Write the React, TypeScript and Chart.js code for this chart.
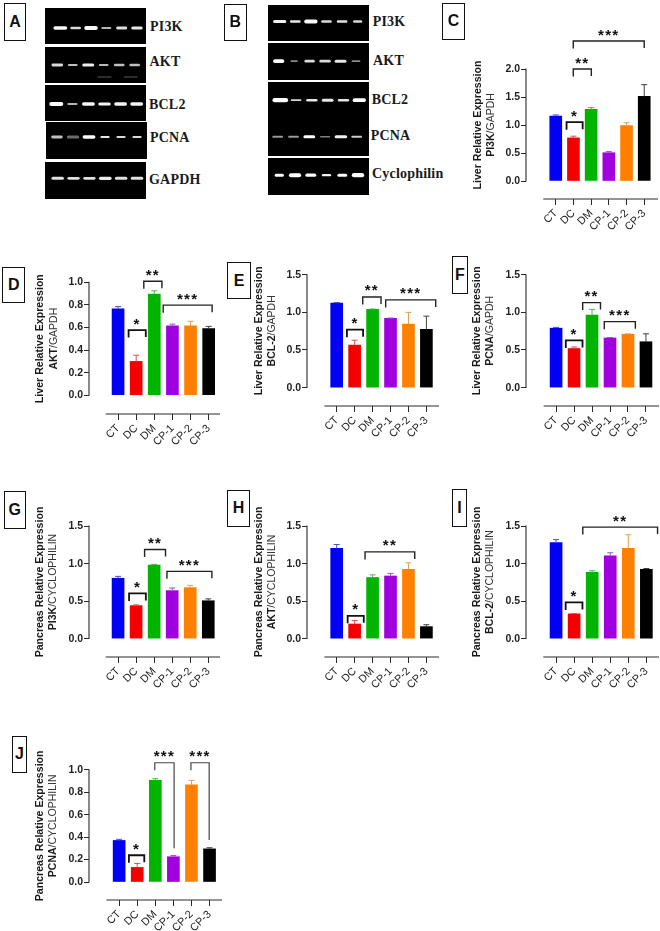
import React, { useEffect, useRef } from "react";
import Chart from "chart.js/auto";

// ---------- bar chart data ----------
const categories = ["CT", "DC", "DM", "CP-1", "CP-2", "CP-3"];
const barColors = ["#0000f5", "#f50000", "#00b400", "#a000e0", "#ff8000", "#000000"];
const errColors = ["#5050c0", "#e05050", "#50b050", "#9a50c8", "#e0a050", "#404040"];

const cValues = [1.16, 0.77, 1.28, 0.505, 0.99, 1.51];
const cTops = [1.18, 0.8, 1.31, 0.525, 1.04, 1.72];
const dValues = [0.765, 0.3, 0.895, 0.615, 0.615, 0.59];
const dTops = [0.785, 0.355, 0.925, 0.63, 0.655, 0.61];
const eValues = [1.125, 0.565, 1.04, 0.92, 0.845, 0.775];
const eTops = [1.13, 0.63, 1.045, 0.925, 1.0, 0.95];
const fValues = [0.79, 0.52, 0.965, 0.66, 0.71, 0.61];
const fTops = [0.8, 0.54, 1.04, 0.665, 0.715, 0.715];
const gValues = [0.805, 0.44, 0.98, 0.64, 0.68, 0.505];
const gTops = [0.83, 0.45, 0.99, 0.675, 0.71, 0.53];
const hValues = [1.205, 0.195, 0.815, 0.835, 0.925, 0.16];
const hTops = [1.255, 0.24, 0.85, 0.87, 1.01, 0.185];
const iValues = [1.28, 0.33, 0.885, 1.105, 1.205, 0.925];
const iTops = [1.32, 0.335, 0.905, 1.145, 1.385, 0.935];
const jValues = [0.37, 0.13, 0.905, 0.225, 0.865, 0.295];
const jTops = [0.38, 0.165, 0.92, 0.235, 0.905, 0.305];

const ticksTo2 = [0, 0.5, 1, 1.5, 2];
const ticksTo1 = [0, 0.2, 0.4, 0.6, 0.8, 1];
const ticksTo15 = [0, 0.5, 1, 1.5];

// significance brackets: [from lane, to lane, level, stars, right-leg end value or null]
type Br = [number, number, number, string, number | null];
const cBrackets: Br[] = [[0.61, 1.52, 1.05, "*", null], [0.99, 2.01, 2.0, "**", null], [0.99, 5.0, 2.5, "***", null]];
const dBrackets: Br[] = [[0.58, 1.53, 0.577, "*", null], [1.42, 2.42, 1.009, "**", null], [2.49, 5.19, 0.798, "***", null]];
const eBrackets: Br[] = [[0.57, 1.47, 0.77, "*", null], [1.45, 2.47, 1.205, "**", null], [2.73, 5.52, 1.166, "***", null]];
const fBrackets: Br[] = [[0.54, 1.47, 0.627, "*", null], [1.48, 2.47, 1.13, "**", null], [2.68, 4.41, 0.877, "***", null]];
const gBrackets: Br[] = [[0.61, 1.54, 0.603, "*", null], [1.47, 2.63, 1.188, "**", null], [2.71, 5.2, 0.897, "***", null]];
const hBrackets: Br[] = [[0.61, 1.51, 0.304, "*", null], [1.58, 4.35, 1.156, "**", null]];
const iBrackets: Br[] = [[0.53, 1.46, 0.482, "*", null], [1.48, 5.62, 1.487, "**", null]];
const jBrackets: Br[] = [[0.54, 1.39, 0.238, "*", null], [1.97, 3.04, 1.062, "***", 0.3], [3.97, 4.98, 1.062, "***", 0.374]];

// ---------- gel data: band width (px), band thickness (px), brightness per lane ----------
const gelAPi3kW = [12.7, 10.7, 12, 10.7, 10.7, 10.7];
const gelAPi3kT = [3.6, 2.4, 4, 1.8, 2.8, 3.2];
const gelAPi3kB = [0.97, 0.85, 0.97, 0.7, 0.87, 0.9];
const gelAAktW = [11.3, 10, 11.3, 10, 10.7, 10.7];
const gelAAktT = [2.8, 2.2, 3.2, 2.2, 2.4, 2.4];
const gelAAktB = [0.85, 0.75, 0.92, 0.72, 0.75, 0.75];
const gelABclW = [12.7, 11, 12, 12, 12, 12];
const gelABclT = [3.8, 1.8, 3.4, 3, 3.4, 3.4];
const gelABclB = [1, 0.7, 0.96, 0.96, 0.96, 0.96];
const gelAPcnaW = [11.3, 12, 12, 10, 10, 10];
const gelAPcnaT = [2.8, 3, 3.4, 1.8, 1.8, 1.8];
const gelAPcnaB = [0.75, 0.42, 1, 0.9, 0.85, 0.85];
const gelAGapdhW = [12, 12, 12, 12, 12, 12];
const gelAGapdhT = [3, 2.8, 2.8, 3.2, 3, 3];
const gelAGapdhB = [0.88, 0.88, 0.88, 0.92, 0.88, 0.88];

const gelBPi3kW = [12.7, 10.7, 12, 10.7, 10.7, 9.3];
const gelBPi3kT = [3, 2.4, 3.8, 2.4, 2.4, 2.4];
const gelBPi3kB = [0.95, 0.9, 0.98, 0.85, 0.88, 0.85];
const gelBAktW = [10, 8, 10, 11.3, 11.3, 9.3];
const gelBAktT = [3.6, 1.8, 2.8, 2.6, 3, 1.9];
const gelBAktB = [1, 0.55, 0.85, 0.85, 0.9, 0.55];
const gelBBclW = [14, 11.3, 11.3, 11.3, 11.3, 12];
const gelBBclT = [4.2, 1.8, 2.5, 3, 2.5, 3.8];
const gelBBclB = [1, 0.85, 0.9, 0.9, 0.9, 1];
const gelBPcnaW = [11.3, 11.3, 11.3, 11.3, 12, 11.3];
const gelBPcnaT = [2, 2, 3, 1.5, 3, 2];
const gelBPcnaB = [0.6, 0.6, 1, 0.5, 0.95, 0.8];
const gelBCycW = [8.7, 10.7, 10, 9.3, 9.3, 10.7];
const gelBCycT = [3, 4, 3.4, 2.4, 3, 4.2];
const gelBCycB = [1, 1, 1, 0.95, 1, 1];

const gelAAktFaintLanes = [3.05, 4.75];

// ---------- layout ----------
const strips = [
  { l: 45, r: 146, t: 8, b: 44, first: 60.3, last: 137, row: 28, w: gelAPi3kW, th: gelAPi3kT, br: gelAPi3kB },
  { l: 45, r: 146, t: 47, b: 83, first: 57.3, last: 134.7, row: 65, w: gelAAktW, th: gelAAktT, br: gelAAktB, faint: gelAAktFaintLanes, faintRow: 77 },
  { l: 45, r: 146, t: 85, b: 121, first: 56.3, last: 136.7, row: 104, w: gelABclW, th: gelABclT, br: gelABclB },
  { l: 45.7, r: 147, t: 122, b: 159, first: 56.7, last: 137, row: 137, w: gelAPcnaW, th: gelAPcnaT, br: gelAPcnaB },
  { l: 45, r: 146, t: 161.7, b: 198.7, first: 57.7, last: 137, row: 178, w: gelAGapdhW, th: gelAGapdhT, br: gelAGapdhB },
  { l: 268, r: 369, t: 5.3, b: 41.7, first: 279.7, last: 357.7, row: 22, w: gelBPi3kW, th: gelBPi3kT, br: gelBPi3kB },
  { l: 268, r: 369, t: 42.7, b: 80, first: 278.7, last: 356, row: 61, w: gelBAktW, th: gelBAktT, br: gelBAktB },
  { l: 268, r: 369, t: 82.3, b: 119, first: 280.3, last: 359.3, row: 100.3, w: gelBBclW, th: gelBBclT, br: gelBBclB },
  { l: 268, r: 369, t: 119, b: 156, first: 277.7, last: 356.7, row: 136.7, w: gelBPcnaW, th: gelBPcnaT, br: gelBPcnaB },
  { l: 268, r: 369, t: 157.7, b: 195, first: 279.3, last: 358, row: 175, w: gelBCycW, th: gelBCycT, br: gelBCycB },
];

const gelLabels = [
  ["PI3K", 150, 27], ["AKT", 149.5, 61.5], ["BCL2", 149, 104.5], ["PCNA", 150, 138], ["GAPDH", 149, 180],
  ["PI3K", 372.7, 22], ["AKT", 373, 61], ["BCL2", 371.7, 100], ["PCNA", 370.7, 136], ["Cyclophilin", 372, 174],
] as [string, number, number][];

const letterBoxes = [
  ["A", 4, 3.3, 26, 40.7], ["B", 224, 3.7, 246.7, 40.7], ["C", 442.3, 2.7, 464.7, 40],
  ["D", 2.3, 266.7, 25.3, 303], ["E", 227.3, 262, 250.7, 299.3], ["F", 452.3, 256, 467.7, 294],
  ["G", 3.7, 491, 26, 528.7], ["H", 227.3, 489.5, 250, 527], ["I", 452.3, 489, 466.7, 526.7],
  ["J", 12, 735.7, 26.7, 773],
] as [string, number, number, number, number][];

const panels = [
  { v: cValues, e: cTops, br: cBrackets, ticks: ticksTo2, organ: "Liver", bold: "PI3K", rest: "/GAPDH", axisX: 525.7, y0: 181, yTop: 69, axisY: 199, x1: 543, x2: 657, first: 555.3, last: 643.3, areaTop: 22, titleX: 477.7, subX: 490.7 },
  { v: dValues, e: dTops, br: dBrackets, ticks: ticksTo1, organ: "Liver", bold: "AKT", rest: "/GAPDH", axisX: 89.3, y0: 395, yTop: 282.3, axisY: 413.7, x1: 106, x2: 220, first: 118.3, last: 208.7, areaTop: 264, titleX: 40, subX: 54 },
  { v: eValues, e: eTops, br: eBrackets, ticks: ticksTo15, organ: "Liver", bold: "BCL-2", rest: "/GAPDH", axisX: 307.3, y0: 387, yTop: 274.7, axisY: 405.3, x1: 324.7, x2: 439.3, first: 337, last: 426.7, areaTop: 260, titleX: 259, subX: 272.3 },
  { v: fValues, e: fTops, br: fBrackets, ticks: ticksTo15, organ: "Liver", bold: "PCNA", rest: "/GAPDH", axisX: 525.7, y0: 387, yTop: 274.7, axisY: 405.3, x1: 543.3, x2: 658.3, first: 555.7, last: 645.3, areaTop: 260, titleX: 477, subX: 490 },
  { v: gValues, e: gTops, br: gBrackets, ticks: ticksTo15, organ: "Pancreas", bold: "PI3K", rest: "/CYCLOPHILIN", axisX: 89.3, y0: 638, yTop: 526, axisY: 656.3, x1: 106, x2: 220, first: 118.3, last: 208.3, areaTop: 498, titleX: 40, subX: 53.7 },
  { v: hValues, e: hTops, br: hBrackets, ticks: ticksTo15, organ: "Pancreas", bold: "AKT", rest: "/CYCLOPHILIN", axisX: 307.3, y0: 638, yTop: 526, axisY: 656.3, x1: 324.7, x2: 439.3, first: 337, last: 426.7, areaTop: 498, titleX: 259, subX: 272.3 },
  { v: iValues, e: iTops, br: iBrackets, ticks: ticksTo15, organ: "Pancreas", bold: "BCL-2", rest: "/CYCLOPHILIN", axisX: 525.7, y0: 638, yTop: 526, axisY: 656.3, x1: 543, x2: 658.3, first: 555.7, last: 645.7, areaTop: 498, titleX: 477, subX: 490 },
  { v: jValues, e: jTops, br: jBrackets, ticks: ticksTo1, organ: "Pancreas", bold: "PCNA", rest: "/CYCLOPHILIN", axisX: 89.3, y0: 882, yTop: 769.7, axisY: 900, x1: 106.7, x2: 221.7, first: 119.3, last: 209.3, areaTop: 740, titleX: 40, subX: 53.7 },
];

const SANS = '"Liberation Sans", Arial, sans-serif';
const LEFT_ROOM = 60;
const BOTTOM_ROOM = 31;

function noPadding(s: any) {
  s.paddingTop = 0;
  s.paddingBottom = 0;
  s.paddingLeft = 0;
  s.paddingRight = 0;
}

function buildBarChart(canvas: HTMLCanvasElement, p: any) {
  const left = p.axisX - LEFT_ROOM;
  const gap = (p.last - p.first) / 5;
  const unit = (p.y0 - p.yTop) / p.ticks[p.ticks.length - 1];
  const xMin = (p.axisX - p.first) / gap;
  const xMax = (p.x2 - p.first) / gap;
  const yMin = -(p.axisY - p.y0) / unit;
  const yMax = (p.y0 - p.areaTop) / unit;
  const overlay = {
    id: "panelOverlay",
    afterDatasetsDraw(chart: any) {
      const { ctx, scales } = chart;
      const x = scales.x;
      const y = scales.y;
      ctx.save();
      // error bars
      p.e.forEach((top: number, i: number) => {
        const px = x.getPixelForValue(i);
        const a = y.getPixelForValue(p.v[i]);
        const b = y.getPixelForValue(top);
        ctx.strokeStyle = errColors[i];
        ctx.lineWidth = 1;
        ctx.beginPath();
        ctx.moveTo(px, a);
        ctx.lineTo(px, b);
        ctx.moveTo(px - 3, b);
        ctx.lineTo(px + 3, b);
        ctx.stroke();
      });
      // axis lines
      ctx.strokeStyle = "#2a2a2a";
      ctx.lineWidth = 1.1;
      ctx.beginPath();
      ctx.moveTo(x.left, y.getPixelForValue(p.ticks[p.ticks.length - 1]) - 0.5);
      ctx.lineTo(x.left, y.getPixelForValue(0) + 0.5);
      ctx.moveTo(p.x1 - left, y.bottom);
      ctx.lineTo(x.right, y.bottom);
      ctx.stroke();
      // brackets and stars
      p.br.forEach((b: Br, bi: number) => {
        const [from, to, level, stars, rightEnd] = b;
        const xa = x.getPixelForValue(from);
        const xb = x.getPixelForValue(to);
        const yy = y.getPixelForValue(level);
        const yr = rightEnd === null ? yy + 7 : y.getPixelForValue(rightEnd);
        ctx.strokeStyle = bi === 0 ? "#111" : rightEnd === null ? "#222" : "#444";
        ctx.lineWidth = bi === 0 ? 1.8 : rightEnd === null ? 1.4 : 1.2;
        ctx.beginPath();
        ctx.moveTo(xa, yy + 7.5);
        ctx.lineTo(xa, yy);
        ctx.lineTo(xb, yy);
        ctx.lineTo(xb, yr);
        ctx.stroke();
        ctx.fillStyle = "#111";
        ctx.font = `bold 15px ${SANS}`;
        ctx.textAlign = "center";
        ctx.textBaseline = "alphabetic";
        (ctx as any).letterSpacing = "1.3px";
        ctx.fillText(stars, (xa + xb) / 2, yy - 1.5);
        (ctx as any).letterSpacing = "0px";
      });
      // rotated titles
      const cy = (p.yTop + p.y0) / 2 - p.areaTop;
      ctx.fillStyle = "#1a1a1a";
      ctx.textBaseline = "middle";
      ctx.save();
      ctx.translate(p.titleX - left, cy);
      ctx.rotate(-Math.PI / 2);
      ctx.textAlign = "center";
      ctx.font = `bold 10.6px ${SANS}`;
      ctx.fillText(`${p.organ} Relative Expression`, 0, 0);
      ctx.restore();
      ctx.save();
      ctx.translate(p.subX - left, cy);
      ctx.rotate(-Math.PI / 2);
      ctx.textAlign = "left";
      ctx.font = `bold 10.5px ${SANS}`;
      const wa = ctx.measureText(p.bold).width;
      ctx.font = `10.5px ${SANS}`;
      const wb = ctx.measureText(p.rest).width;
      ctx.font = `bold 10.5px ${SANS}`;
      ctx.fillText(p.bold, -(wa + wb) / 2, 0);
      ctx.font = `10.5px ${SANS}`;
      ctx.fillStyle = "#333";
      ctx.fillText(p.rest, -(wa + wb) / 2 + wa, 0);
      ctx.restore();
      ctx.restore();
    },
  };
  return new Chart(canvas, {
    type: "bar",
    data: {
      datasets: [
        {
          data: p.v.map((val: number, i: number) => ({ x: i, y: val })),
          backgroundColor: barColors,
          barThickness: 12,
          borderWidth: 0,
        },
      ],
    },
    options: {
      animation: false,
      responsive: false,
      events: [],
      layout: { autoPadding: false, padding: 0 },
      plugins: { legend: { display: false }, tooltip: { enabled: false }, title: { display: false } },
      scales: {
        x: {
          type: "linear",
          offset: false,
          bounds: "data",
          min: xMin,
          max: xMax,
          afterBuildTicks: (s: any) => {
            s.ticks = categories.map((_, i) => ({ value: i }));
            s.min = xMin;
            s.max = xMax;
          },
          afterFit: (s: any) => {
            s.height = BOTTOM_ROOM;
            noPadding(s);
          },
          border: { display: false },
          grid: { offset: false, drawOnChartArea: false, drawTicks: true, tickLength: 6, color: "#2a2a2a", lineWidth: 1 },
          ticks: {
            autoSkip: false,
            minRotation: 45,
            maxRotation: 45,
            padding: 2,
            color: "#1a1a1a",
            font: { family: SANS, size: 10.8 },
            callback: (v: any) => categories[v as number],
          },
        },
        y: {
          bounds: "data",
          min: yMin,
          max: yMax,
          afterBuildTicks: (s: any) => {
            s.ticks = p.ticks.map((v: number) => ({ value: v }));
            s.min = yMin;
            s.max = yMax;
          },
          afterFit: (s: any) => {
            s.width = LEFT_ROOM;
            noPadding(s);
          },
          border: { display: false },
          grid: { drawOnChartArea: false, drawTicks: true, tickLength: 5, color: "#2a2a2a", lineWidth: 1 },
          ticks: {
            autoSkip: false,
            padding: 1,
            color: "#222",
            font: { family: SANS, size: 10.5, weight: "bold" },
            callback: (v: any) => Number(v).toFixed(1),
          },
        },
      },
    },
    plugins: [overlay],
  } as any);
}

function buildGel(canvas: HTMLCanvasElement, s: any) {
  const gap = (s.last - s.first) / 5;
  const datasets: any[] = s.w.map((w: number, i: number) => {
    const g = Math.round(255 * s.br[i]);
    return {
      data: [
        { x: i - w / 2 / gap + 0.08, y: s.row },
        { x: i + w / 2 / gap - 0.08, y: s.row },
      ],
      borderColor: `rgb(${g},${g},${g})`,
      borderWidth: s.th[i],
      borderCapStyle: "round",
      pointRadius: 0,
    };
  });
  (s.faint || []).forEach((lane: number) => {
    datasets.push({
      data: [
        { x: lane - 0.45, y: s.faintRow },
        { x: lane + 0.45, y: s.faintRow },
      ],
      borderColor: "rgb(90,90,90)",
      borderWidth: 1,
      pointRadius: 0,
    });
  });
  const blur = {
    id: "gelBlur",
    beforeDatasetsDraw(chart: any) {
      chart.ctx.save();
      chart.ctx.filter = "blur(0.45px)";
    },
    afterDatasetsDraw(chart: any) {
      chart.ctx.restore();
    },
  };
  const xMin = (s.l - s.first) / gap;
  const xMax = (s.r - s.first) / gap;
  return new Chart(canvas, {
    type: "line",
    data: { datasets },
    options: {
      animation: false,
      responsive: false,
      events: [],
      layout: { autoPadding: false, padding: 0 },
      plugins: { legend: { display: false }, tooltip: { enabled: false } },
      scales: {
        x: {
          type: "linear", display: false, bounds: "data", min: xMin, max: xMax,
          afterBuildTicks: (a: any) => { a.min = xMin; a.max = xMax; },
        },
        y: {
          type: "linear", display: false, bounds: "data", reverse: true, min: s.t, max: s.b,
          afterBuildTicks: (a: any) => { a.min = s.t; a.max = s.b; },
        },
      },
    },
    plugins: [blur],
  } as any);
}

export default function App() {
  const barRefs = useRef<(HTMLCanvasElement | null)[]>([]);
  const gelRefs = useRef<(HTMLCanvasElement | null)[]>([]);
  useEffect(() => {
    const charts: any[] = [];
    strips.forEach((s, i) => {
      const c = gelRefs.current[i];
      if (c) charts.push(buildGel(c, s));
    });
    panels.forEach((p, i) => {
      const c = barRefs.current[i];
      if (c) charts.push(buildBarChart(c, p));
    });
    return () => charts.forEach((c) => c.destroy());
  }, []);
  return (
    <div style={{ position: "absolute", left: 0, top: 0, width: 660, height: 931, overflow: "hidden", background: "#fff" }}>
      {strips.map((s, i) => (
        <canvas
          key={`gel${i}`}
          ref={(el) => {
            gelRefs.current[i] = el;
          }}
          width={Math.round(s.r - s.l)}
          height={Math.round(s.b - s.t)}
          style={{ position: "absolute", left: s.l, top: s.t, width: Math.round(s.r - s.l), height: Math.round(s.b - s.t), background: "#000" }}
        />
      ))}
      {gelLabels.map(([t, x, y], i) => (
        <div
          key={`lab${i}`}
          style={{
            position: "absolute",
            left: x,
            top: y,
            transform: "translateY(-50%)",
            font: `bold 14px "Liberation Serif", serif`,
            color: "#1a1a1a",
            whiteSpace: "nowrap",
            letterSpacing: 0.2,
          }}
        >
          {t}
        </div>
      ))}
      {letterBoxes.map(([t, l, tp, r, b]) => (
        <div
          key={`box${t}`}
          style={{
            position: "absolute",
            left: l,
            top: tp,
            width: r - l,
            height: b - tp,
            boxSizing: "border-box",
            border: "1.5px solid #111",
            display: "flex",
            alignItems: "center",
            justifyContent: "center",
            font: `bold 16px "Liberation Sans", Arial, sans-serif`,
            color: "#111",
            background: "#fff",
          }}
        >
          {t}
        </div>
      ))}
      {panels.map((p, i) => {
        const left = Math.round(p.axisX * 10) / 10 - LEFT_ROOM;
        const width = p.x2 - left;
        const height = p.axisY - p.areaTop + BOTTOM_ROOM;
        return (
          <canvas
            key={`bar${i}`}
            ref={(el) => {
              barRefs.current[i] = el;
            }}
            width={Math.ceil(width)}
            height={Math.ceil(height)}
            style={{ position: "absolute", left, top: p.areaTop, width: Math.ceil(width), height: Math.ceil(height) }}
          />
        );
      })}
    </div>
  );
}
